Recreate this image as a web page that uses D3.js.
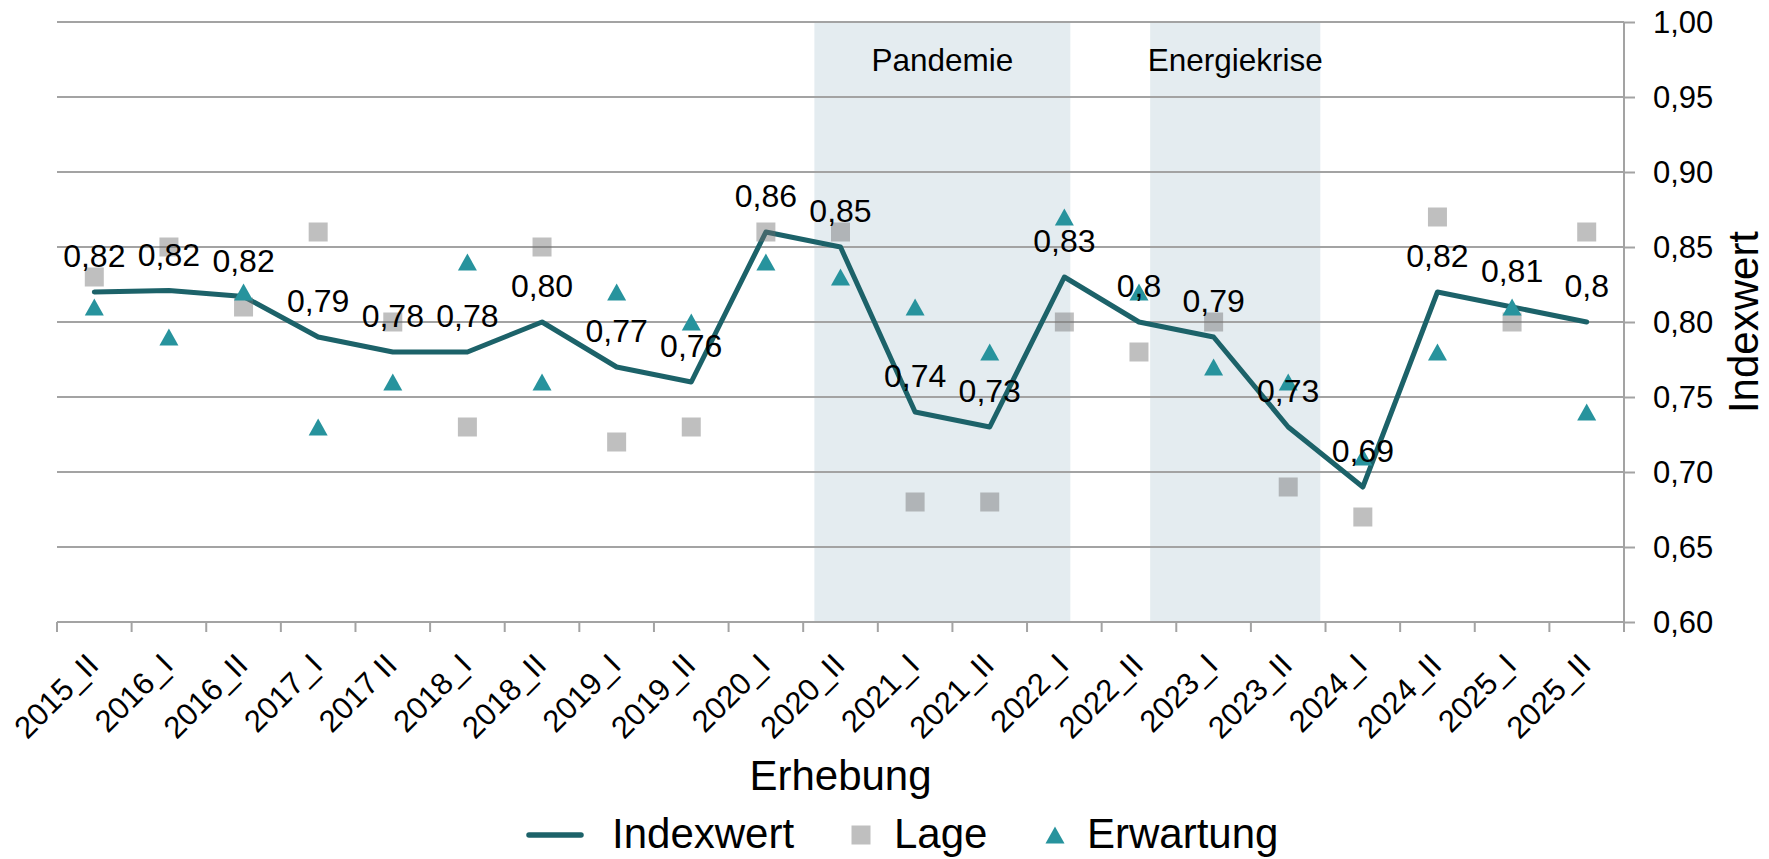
<!DOCTYPE html>
<html>
<head>
<meta charset="utf-8">
<script src="https://cdn.jsdelivr.net/npm/d3@7"></script>
<style>
  body { margin: 0; background: #fff; }
  svg { display: block; font-family: "Liberation Sans", Arial, sans-serif; }
</style>
</head>
<body>
<div id="chart"></div>
<script>
const categories = ["2015_II", "2016_I", "2016_II", "2017_I", "2017 II", "2018_I", "2018_II",
  "2019_I", "2019_II", "2020_I", "2020_II", "2021_I", "2021_II", "2022_I", "2022_II",
  "2023_I", "2023_II", "2024_I", "2024_II", "2025_I", "2025_II"];

const indexwert = [0.820, 0.821, 0.817, 0.79, 0.78, 0.78, 0.80, 0.77, 0.76, 0.86, 0.85,
  0.74, 0.73, 0.83, 0.80, 0.79, 0.73, 0.69, 0.82, 0.81, 0.80];
const indexLabels = ["0,82", "0,82", "0,82", "0,79", "0,78", "0,78", "0,80", "0,77", "0,76", "0,86", "0,85",
  "0,74", "0,73", "0,83", "0,8", "0,79", "0,73", "0,69", "0,82", "0,81", "0,8"];
const lage = [0.83, 0.85, 0.81, 0.86, 0.80, 0.73, 0.85, 0.72, 0.73, 0.86, 0.86,
  0.68, 0.68, 0.80, 0.78, 0.80, 0.69, 0.67, 0.87, 0.80, 0.86];
const erwartung = [0.81, 0.79, 0.82, 0.73, 0.76, 0.84, 0.76, 0.82, 0.80, 0.84, 0.83,
  0.81, 0.78, 0.87, 0.82, 0.77, 0.76, 0.71, 0.78, 0.81, 0.74];

const yTicks = [0.60, 0.65, 0.70, 0.75, 0.80, 0.85, 0.90, 0.95, 1.00];

// shaded periods, in category units from the left edge
const periods = [
  {name: "Pandemie", from: 10.15, to: 13.58},
  {name: "Energiekrise", from: 14.65, to: 16.93}
];

const width = 1769, height = 859;
const plotLeft = 57, plotRight = 1624, plotTop = 22, plotBottom = 622;

const de = d3.formatLocale({decimal: ",", thousands: ".", grouping: [3], currency: ["", " €"]});
const fmt = de.format(".2f");

const x = d3.scaleBand().domain(categories).range([plotLeft, plotRight]).padding(0);
const pos = d3.scaleLinear().domain([0, categories.length]).range([plotLeft, plotRight]);
const y = d3.scaleLinear().domain([0.6, 1.0]).range([plotBottom, plotTop]);
const cx = d => x(d) + x.bandwidth() / 2;

const lineColor = "#1c6269", triColor = "#27939d", gridColor = "#a3a3a3";

const svg = d3.select("#chart").append("svg")
  .attr("width", width).attr("height", height);

// shaded periods
svg.append("g").selectAll("rect")
  .data(periods)
  .join("rect")
    .attr("x", d => pos(d.from))
    .attr("width", d => pos(d.to) - pos(d.from))
    .attr("y", plotTop)
    .attr("height", plotBottom - plotTop)
    .attr("fill", "#e4ecf0");

svg.append("g").selectAll("text")
  .data(periods)
  .join("text")
    .attr("x", d => (pos(d.from) + pos(d.to)) / 2)
    .attr("y", 71)
    .attr("text-anchor", "middle")
    .attr("font-size", 31.5)
    .text(d => d.name);

// gridlines
svg.append("g").selectAll("line")
  .data(yTicks)
  .join("line")
    .attr("x1", plotLeft).attr("x2", plotRight)
    .attr("y1", d => y(d)).attr("y2", d => y(d))
    .attr("stroke", gridColor).attr("stroke-width", 2);

// y axis on the right
const yAxis = svg.append("g")
  .attr("transform", `translate(${plotRight},0)`)
  .call(d3.axisRight(y).tickValues(yTicks).tickFormat(fmt).tickSize(11).tickPadding(18));
yAxis.select(".domain").remove();
yAxis.selectAll(".tick line").attr("stroke", gridColor).attr("stroke-width", 2);
yAxis.selectAll(".tick text").attr("font-size", 31).attr("fill", "#000")
  .attr("dy", "0.35em");
yAxis.attr("font-family", null);
yAxis.append("line")
  .attr("y1", plotTop).attr("y2", plotBottom + 10)
  .attr("stroke", gridColor).attr("stroke-width", 2);

// x axis
const xAxis = svg.append("g")
  .attr("transform", `translate(0,${plotBottom})`)
  .call(d3.axisBottom(x).tickSize(0));
xAxis.attr("font-family", null);
xAxis.select(".domain").remove();
xAxis.selectAll(".tick text")
  .attr("font-size", 31).attr("fill", "#000")
  .attr("text-anchor", "end")
  .attr("y", 0).attr("dy", 0)
  .attr("transform", "translate(6,45) rotate(-45)");
xAxis.append("line")
  .attr("x1", plotLeft).attr("x2", plotRight)
  .attr("stroke", gridColor).attr("stroke-width", 2);
xAxis.append("g").selectAll("line")
  .data(d3.range(categories.length + 1))
  .join("line")
    .attr("x1", d => pos(d)).attr("x2", d => pos(d))
    .attr("y1", 0).attr("y2", 10)
    .attr("stroke", gridColor).attr("stroke-width", 2);

// Indexwert line
svg.append("path")
  .datum(indexwert)
  .attr("fill", "none")
  .attr("stroke", lineColor)
  .attr("stroke-width", 5)
  .attr("stroke-linejoin", "round")
  .attr("stroke-linecap", "round")
  .attr("d", d3.line().x((d, i) => cx(categories[i])).y(d => y(d)));

// Lage squares
svg.append("g").selectAll("path")
  .data(lage)
  .join("path")
    .attr("transform", (d, i) => `translate(${cx(categories[i])},${y(d)})`)
    .attr("d", d3.symbol(d3.symbolSquare, 361))
    .attr("fill", "#717171")
    .attr("fill-opacity", 0.45);

// Erwartung triangles
const tri = "M0,-8.5L9.5,8.5L-9.5,8.5Z";
svg.append("g").selectAll("path")
  .data(erwartung)
  .join("path")
    .attr("transform", (d, i) => `translate(${cx(categories[i])},${y(d)})`)
    .attr("d", tri)
    .attr("fill", triColor);

// data labels
svg.append("g").selectAll("text")
  .data(indexwert)
  .join("text")
    .attr("x", (d, i) => cx(categories[i]))
    .attr("y", d => y(d) - 25)
    .attr("text-anchor", "middle")
    .attr("font-size", 32)
    .text((d, i) => indexLabels[i]);

// axis titles
svg.append("text")
  .attr("x", (plotLeft + plotRight) / 2).attr("y", 790)
  .attr("text-anchor", "middle").attr("font-size", 42)
  .text("Erhebung");

svg.append("text")
  .attr("transform", `translate(1758,${(plotTop + plotBottom) / 2}) rotate(-90)`)
  .attr("text-anchor", "middle").attr("font-size", 42)
  .text("Indexwert");

// legend
const legend = svg.append("g");
legend.append("line")
  .attr("x1", 529).attr("x2", 581).attr("y1", 835).attr("y2", 835)
  .attr("stroke", lineColor).attr("stroke-width", 5.5).attr("stroke-linecap", "round");
legend.append("text").attr("x", 612).attr("y", 848).attr("font-size", 42).text("Indexwert");
legend.append("path")
  .attr("transform", "translate(861,835)")
  .attr("d", d3.symbol(d3.symbolSquare, 361))
  .attr("fill", "#bfbfbf");
legend.append("text").attr("x", 894).attr("y", 848).attr("font-size", 42).text("Lage");
legend.append("path")
  .attr("transform", "translate(1055,835)")
  .attr("d", tri)
  .attr("fill", triColor);
legend.append("text").attr("x", 1087).attr("y", 848).attr("font-size", 42).text("Erwartung");
</script>
</body>
</html>
